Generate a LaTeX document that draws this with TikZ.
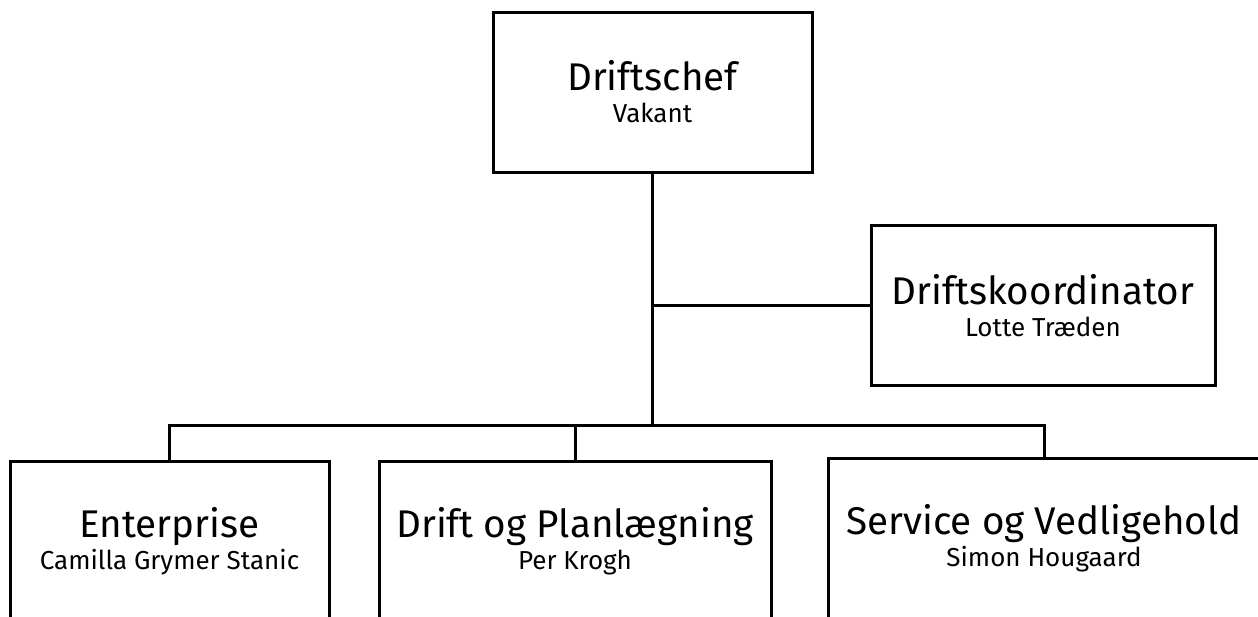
\documentclass[tikz,border=0pt]{standalone}
\usepackage{fontspec}
\setmainfont{Fira Sans}
\usetikzlibrary{positioning}

\newcommand\role[2]{{\fontsize{19.3}{16}\selectfont #1}\\{\fontsize{13}{16}\selectfont #2}}

\begin{document}
\begin{tikzpicture}[
	x=0.5pt,y=-0.5pt,
	box/.style={draw,line width=1.5pt,align=center,inner sep=0pt,minimum height=80pt,
		font=\fontsize{13}{16}\selectfont},
	edge/.style={line width=1.5pt}
	]
	\clip (0,0) rectangle (1258,616);
	
	\node[box,minimum width=159.5pt] (chef) at (652.5,92) {\role{Driftschef}{Vakant}};
	\node[box,minimum width=172pt] (koord) at (1043,305.5) {\role{Driftskoordinator}{Lotte Træden}};
	\node[box,minimum width=159.5pt] (ent) at (169.5,541) {\role{Enterprise}{Camilla Grymer Stanic}};
	\node[box,minimum width=196pt] (drift) at (575,541) {\role{Drift og Planlægning}{Per Krogh}};
	\node[box,minimum width=216pt] (serv) at (1044,538) {\role{Service og Vedligehold}{Simon Hougaard}};
	
	\coordinate (bus) at (652.5,425);
	
	\draw[edge] (chef.south) -- (bus);
	\draw[edge] (chef.south |- koord.west) -- (koord.west);
	\draw[edge] (ent.north) |- (bus) -| (serv.north);
	\draw[edge] (bus -| drift.north) -- (drift.north);
\end{tikzpicture}
\end{document}
